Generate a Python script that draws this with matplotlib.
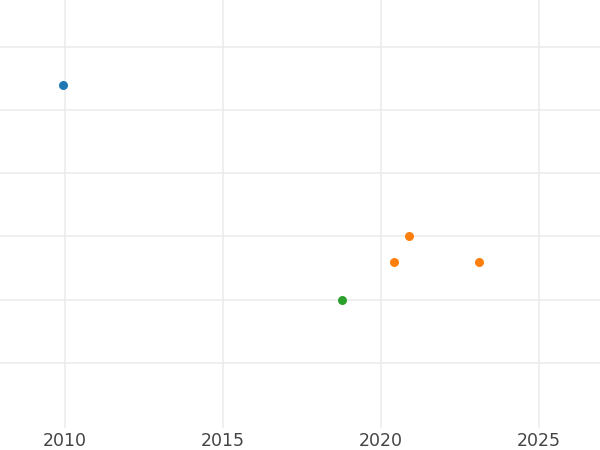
import matplotlib.pyplot as plt

# data
blue_x = [2009.94]
blue_y = [5.4]
orange_x = [2020.89, 2020.41, 2023.1]
orange_y = [3.0, 2.6, 2.6]
green_x = [2018.77]
green_y = [2.0]

x_ticks = [2010, 2015, 2020, 2025]
y_grid = [1, 2, 3, 4, 5, 6]

fig = plt.figure(figsize=(6, 4.5), dpi=100)
ax = fig.add_axes([0, 0.049, 1, 0.951])

ax.scatter(blue_x, blue_y, s=42, color='#1f77b4', zorder=3, linewidths=0)
ax.scatter(orange_x, orange_y, s=42, color='#ff7f0e', zorder=3, linewidths=0)
ax.scatter(green_x, green_y, s=42, color='#2ca02c', zorder=3, linewidths=0)

ax.set_xlim(2007.94, 2026.93)
ax.set_ylim(-0.03, 6.74)
ax.set_xticks(x_ticks)
ax.set_xticklabels([str(t) for t in x_ticks])
ax.set_yticks(y_grid)
ax.set_yticklabels([])
ax.tick_params(axis='both', length=0, labelsize=12.5, labelcolor='#444444', pad=3)
ax.grid(True, color='#ebebeb', linewidth=1.1)
ax.set_axisbelow(True)
for s in ax.spines.values():
    s.set_visible(False)

fig.savefig('out.png', dpi=100)
